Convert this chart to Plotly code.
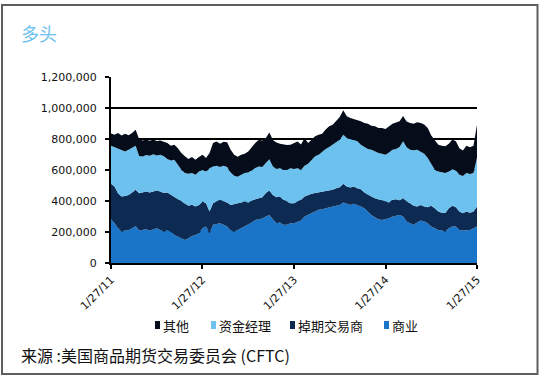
import pandas as pd
import plotly.graph_objects as go

# ---------------- data ----------------
start_date = "2011-01-27"
end_date = "2015-01-27"
n_points = 105

tick_dates = ["2011-01-27", "2012-01-27", "2013-01-27", "2014-01-27", "2015-01-27"]
tick_labels = ["1/27/11", "1/27/12", "1/27/13", "1/27/14", "1/27/15"]

series_names = ["商业", "掉期交易商", "资金经理", "其他"]

commercial = [
    282000, 257000, 224000, 203000, 209000, 213000, 224000, 239000, 209000, 213000,
    218000, 209000, 218000, 224000, 213000, 203000, 209000, 203000, 181000, 170000,
    160000, 149000, 160000, 175000, 181000, 192000, 224000, 235000, 192000, 246000,
    252000, 257000, 246000, 235000, 209000, 203000, 213000, 224000, 235000, 246000,
    261000, 278000, 282000, 287000, 300000, 310000, 282000, 257000, 261000, 246000,
    246000, 257000, 257000, 267000, 274000, 300000, 310000, 321000, 332000, 343000,
    347000, 354000, 360000, 364000, 369000, 375000, 390000, 382000, 375000, 382000,
    375000, 364000, 354000, 332000, 310000, 295000, 282000, 278000, 282000, 289000,
    300000, 304000, 310000, 300000, 267000, 257000, 246000, 261000, 274000, 267000,
    257000, 235000, 224000, 213000, 209000, 203000, 224000, 235000, 235000, 213000,
    209000, 213000, 213000, 224000, 235000,
]

swap_dealers = [
    229000, 237000, 226000, 226000, 224000, 226000, 231000, 233000, 241000, 241000,
    244000, 246000, 244000, 244000, 248000, 248000, 246000, 237000, 244000, 241000,
    237000, 233000, 209000, 201000, 183000, 183000, 172000, 151000, 140000, 140000,
    144000, 151000, 151000, 155000, 166000, 179000, 172000, 166000, 162000, 144000,
    142000, 134000, 136000, 138000, 151000, 157000, 157000, 168000, 168000, 162000,
    151000, 129000, 129000, 129000, 134000, 129000, 129000, 125000, 119000, 112000,
    112000, 108000, 108000, 108000, 114000, 114000, 121000, 112000, 112000, 112000,
    108000, 112000, 101000, 108000, 119000, 123000, 129000, 125000, 114000, 101000,
    108000, 108000, 93000, 119000, 129000, 129000, 123000, 103000, 101000, 97000,
    103000, 134000, 129000, 119000, 116000, 119000, 129000, 134000, 125000, 119000,
    112000, 119000, 112000, 108000, 129000,
]

money_managers = [
    246000, 254000, 285000, 298000, 287000, 291000, 287000, 285000, 241000, 233000,
    235000, 237000, 239000, 226000, 237000, 237000, 216000, 222000, 241000, 222000,
    205000, 198000, 207000, 205000, 205000, 216000, 205000, 205000, 280000, 237000,
    231000, 211000, 231000, 229000, 209000, 181000, 172000, 179000, 183000, 194000,
    198000, 201000, 205000, 194000, 194000, 203000, 183000, 181000, 183000, 194000,
    205000, 226000, 220000, 216000, 194000, 198000, 201000, 220000, 237000, 244000,
    261000, 274000, 280000, 291000, 295000, 306000, 317000, 313000, 313000, 298000,
    302000, 287000, 293000, 295000, 302000, 302000, 298000, 302000, 302000, 323000,
    323000, 323000, 345000, 367000, 351000, 345000, 358000, 367000, 345000, 341000,
    317000, 265000, 248000, 259000, 259000, 259000, 237000, 237000, 237000, 237000,
    241000, 248000, 250000, 248000, 315000,
]

other = [
    78000, 80000, 103000, 95000, 114000, 95000, 97000, 103000, 108000, 103000,
    99000, 97000, 95000, 93000, 93000, 97000, 103000, 95000, 97000, 108000,
    108000, 108000, 95000, 103000, 97000, 93000, 97000, 86000, 97000, 151000,
    157000, 151000, 155000, 160000, 147000, 136000, 129000, 129000, 125000, 136000,
    147000, 162000, 172000, 172000, 162000, 172000, 172000, 172000, 157000, 162000,
    160000, 151000, 168000, 172000, 162000, 179000, 134000, 129000, 129000, 129000,
    114000, 125000, 134000, 129000, 142000, 147000, 157000, 140000, 136000, 138000,
    136000, 151000, 155000, 164000, 155000, 162000, 162000, 166000, 166000, 168000,
    168000, 172000, 166000, 162000, 166000, 172000, 172000, 177000, 183000, 188000,
    194000, 188000, 194000, 172000, 172000, 172000, 179000, 190000, 188000, 172000,
    164000, 177000, 172000, 177000, 213000,
]

# ---------------- styling ----------------
W, H = 541, 379
L_M, R_M, T_M, B_M = 111, 64, 77, 116
PW, PH = W - L_M - R_M, H - T_M - B_M

colors = ["#1a74c7", "#0d2b52", "#6cc1ee", "#050c1a"]
legend_order = [3, 2, 1, 0]


def px_x(px):
    return (px - L_M) / PW


def px_y(py):
    return (H - B_M - py) / PH


dates = pd.date_range(start_date, end_date, periods=n_points)
all_series = [commercial, swap_dealers, money_managers, other]

fig = go.Figure()
for name, vals, col in zip(series_names, all_series, colors):
    fig.add_trace(go.Scatter(
        x=dates, y=vals, name=name, mode="lines",
        stackgroup="one", line=dict(width=0, color=col),
        fillcolor=col, showlegend=False, hoverinfo="skip",
    ))

tick_font = dict(family="DejaVu Sans", size=11, color="#111111")

fig.update_xaxes(
    type="date", range=[start_date, end_date],
    tickvals=tick_dates, ticktext=tick_labels, tickangle=-45,
    showline=True, linecolor="#000000", linewidth=2,
    ticks="outside", ticklen=4, tickwidth=1.5, tickcolor="#000000",
    showgrid=False, zeroline=False, tickfont=tick_font,
)
fig.update_yaxes(
    range=[0, 1200000], dtick=200000, tickformat=",",
    showline=True, linecolor="#000000", linewidth=2,
    ticks="outside", ticklen=4, tickwidth=1.5, tickcolor="#000000",
    showgrid=True, gridcolor="#000000", gridwidth=2,
    zeroline=False, tickfont=tick_font, ticklabelstandoff=6,
)

shapes = []
# outer frame
shapes.append(dict(type="rect", xref="paper", yref="paper",
                   x0=px_x(2), x1=px_x(537.5), y0=px_y(374), y1=px_y(5),
                   line=dict(color="#5e5e5e", width=2), fillcolor="rgba(0,0,0,0)", layer="above"))

annotations = []
annotations.append(dict(text="多头", xref="paper", yref="paper", x=px_x(19), y=px_y(33),
                        xanchor="left", yanchor="middle", showarrow=False,
                        font=dict(family="Noto Sans CJK SC", size=18, color="#6cc1ee")))

# legend keys (manual, small squares followed by labels)
legend_x = [155, 211, 290, 384]
for xpos, idx in zip(legend_x, legend_order):
    shapes.append(dict(type="rect", xref="paper", yref="paper",
                       x0=px_x(xpos), x1=px_x(xpos + 5), y0=px_y(329), y1=px_y(321),
                       line=dict(width=0), fillcolor=colors[idx]))
    annotations.append(dict(text=series_names[idx], xref="paper", yref="paper",
                            x=px_x(xpos + 6), y=px_y(325), xanchor="left", yanchor="middle",
                            showarrow=False,
                            font=dict(family="Noto Sans CJK SC", size=13, color="#111111")))

annotations.append(dict(text="来源 :美国商品期货交易委员会 (CFTC)", xref="paper", yref="paper",
                        x=px_x(19), y=px_y(355), xanchor="left", yanchor="middle",
                        showarrow=False,
                        font=dict(family="Noto Sans CJK SC", size=16, color="#111111")))

fig.update_layout(
    width=W, height=H,
    margin=dict(l=L_M, r=R_M, t=T_M, b=B_M, autoexpand=False),
    paper_bgcolor="#ffffff", plot_bgcolor="#ffffff",
    shapes=shapes, annotations=annotations, showlegend=False,
)

fig.write_html("out.html", config={"displayModeBar": False},
               post_script="document.body.style.margin='0px';")
